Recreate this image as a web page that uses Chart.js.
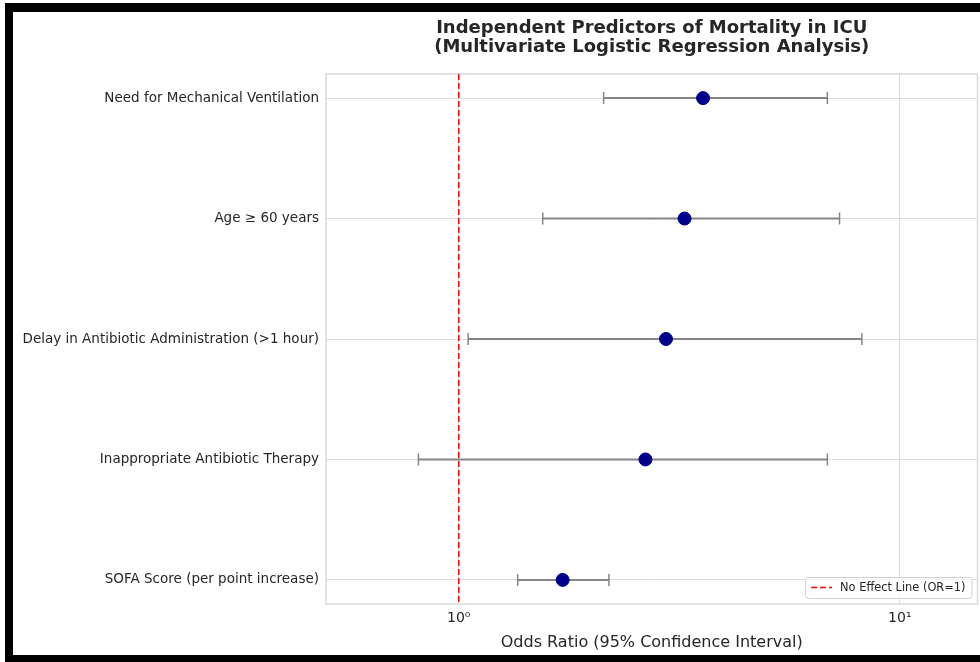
<!DOCTYPE html>
<html>
<head>
<meta charset="utf-8">
<script src="https://cdn.jsdelivr.net/npm/chart.js@4.4.1/dist/chart.umd.min.js"></script>
<style>
  html, body { margin: 0; padding: 0; background: #fff; overflow: hidden; width: 980px; height: 662px; }
  #frame {
    position: absolute; left: 5px; top: 3px;
    width: 1000px; height: 643px;
    border-left: 8px solid #000; border-top: 9px solid #000; border-bottom: 7px solid #000;
    background: #fff;
  }
  #wrap { position: absolute; left: 0; top: 0; width: 972px; height: 643px; }
</style>
</head>
<body>
<div id="frame"><div id="wrap"><canvas id="c"></canvas></div></div>
<script>
// Predictors, top to bottom
const predictors = [
  'Need for Mechanical Ventilation',
  'Age \u2265 60 years',
  'Delay in Antibiotic Administration (>1 hour)',
  'Inappropriate Antibiotic Therapy',
  'SOFA Score (per point increase)'
];
// Adjusted odds ratios with 95% CI bounds
const oddsRatio = [3.58, 3.25, 2.95, 2.65, 1.72];
const ciLower   = [2.13, 1.55, 1.05, 0.81, 1.36];
const ciUpper   = [6.85, 7.30, 8.20, 6.85, 2.19];
// Log-axis tick values and their labels
const xTickValues = [1, 10];
const xTickLabels = ['10\u2070', '10\u00b9'];
const refLineOR = 1;

const FONT = "'DejaVu Sans', sans-serif";
const TEXT = '#262626';

const datasets = [];
predictors.forEach((p, i) => {
  datasets.push({
    type: 'line',
    label: p + ' CI',
    data: [{ x: ciLower[i], y: i }, { x: ciUpper[i], y: i }],
    borderColor: 'rgba(128,128,128,0.95)',
    borderWidth: 2,
    pointStyle: 'line',
    rotation: 90,
    pointRadius: 6,
    pointHoverRadius: 6,
    pointBorderColor: 'rgba(128,128,128,0.95)',
    pointBorderWidth: 1.5,
    order: 3
  });
});
datasets.push({
  type: 'line',
  label: 'No Effect Line (OR=1)',
  data: [{ x: refLineOR, y: -0.2 }, { x: refLineOR, y: 4.2 }],
  borderColor: '#ff0000',
  borderWidth: 1.5,
  borderDash: [6, 3],
  pointRadius: 0,
  order: 2
});
datasets.push({
  type: 'scatter',
  label: 'Odds Ratio',
  data: oddsRatio.map((v, i) => ({ x: v, y: i })),
  backgroundColor: '#00008b',
  borderColor: '#00008b',
  pointRadius: 6.5,
  pointHoverRadius: 6.5,
  order: 1
});

// light frame around the plot area
const plotFrame = {
  id: 'plotFrame',
  beforeDatasetsDraw(chart) {
    const a = chart.chartArea, ctx = chart.ctx;
    ctx.save();
    ctx.strokeStyle = '#d9d9d9';
    ctx.lineWidth = 1.5;
    ctx.strokeRect(a.left, a.top, a.right - a.left, a.bottom - a.top);
    ctx.restore();
  }
};

// two-line title centred over the plot area
const plotTitle = {
  id: 'plotTitle',
  afterDraw(chart) {
    const a = chart.chartArea, ctx = chart.ctx;
    const cx = (a.left + a.right) / 2;
    ctx.save();
    ctx.fillStyle = TEXT;
    ctx.font = "bold 18px " + FONT;
    ctx.textAlign = 'center';
    ctx.textBaseline = 'middle';
    ctx.fillText('Independent Predictors of Mortality in ICU', cx, 16);
    ctx.fillText('(Multivariate Logistic Regression Analysis)', cx, 35);
    ctx.restore();
  }
};

// legend box for the reference line, lower right inside the plot
const refLegend = {
  id: 'refLegend',
  afterDraw(chart) {
    const a = chart.chartArea, ctx = chart.ctx;
    const label = 'No Effect Line (OR=1)';
    ctx.save();
    ctx.font = "11.4px " + FONT;
    const tw = ctx.measureText(label).width;
    const w = tw + 41, h = 21;
    const x = a.right - 6 - w, y = a.bottom - 6 - h;
    ctx.fillStyle = 'rgba(255,255,255,0.8)';
    ctx.strokeStyle = '#d0d0d0';
    ctx.lineWidth = 1;
    ctx.beginPath();
    ctx.roundRect(x + 0.5, y + 0.5, w, h, 3);
    ctx.fill();
    ctx.stroke();
    ctx.strokeStyle = '#ff0000';
    ctx.lineWidth = 1.5;
    ctx.setLineDash([6, 3]);
    ctx.beginPath();
    ctx.moveTo(x + 6, y + h / 2);
    ctx.lineTo(x + 27, y + h / 2);
    ctx.stroke();
    ctx.setLineDash([]);
    ctx.fillStyle = TEXT;
    ctx.textBaseline = 'middle';
    ctx.fillText(label, x + 35, y + h / 2 + 0.5);
    ctx.restore();
  }
};

new Chart(document.getElementById('c'), {
  data: { datasets },
  options: {
    responsive: true,
    maintainAspectRatio: false,
    animation: false,
    layout: { padding: { top: 62, right: 3, left: 0, bottom: 0 } },
    plugins: {
      legend: { display: false },
      title: { display: false },
      tooltip: { enabled: false }
    },
    scales: {
      x: {
        type: 'logarithmic',
        min: 0.5,
        max: 15,
        afterBuildTicks(scale) { scale.ticks = xTickValues.map(v => ({ value: v })); },
        afterFit(scale) { scale.height = 51; },
        ticks: {
          callback: (v) => xTickLabels[xTickValues.indexOf(v)] ?? '',
          font: { family: FONT, size: 14 },
          color: TEXT,
          padding: 6,
          autoSkip: false,
          maxRotation: 0
        },
        grid: { color: '#dcdcdc', lineWidth: 1, drawTicks: false },
        border: { display: false },
        title: {
          display: true,
          text: 'Odds Ratio (95% Confidence Interval)',
          font: { family: FONT, size: 16 },
          color: TEXT,
          padding: { top: 4, bottom: 3 }
        }
      },
      y: {
        type: 'linear',
        reverse: true,
        min: -0.2,
        max: 4.2,
        afterBuildTicks(scale) { scale.ticks = predictors.map((_, i) => ({ value: i })); },
        afterFit(scale) { scale.width = 313; },
        ticks: {
          callback: (v) => predictors[v] ?? '',
          font: { family: FONT, size: 13.5 },
          color: TEXT,
          padding: 7,
          autoSkip: false
        },
        grid: { color: '#dcdcdc', lineWidth: 1, drawTicks: false },
        border: { display: false }
      }
    }
  },
  plugins: [plotFrame, plotTitle, refLegend]
});
</script>
</body>
</html>
